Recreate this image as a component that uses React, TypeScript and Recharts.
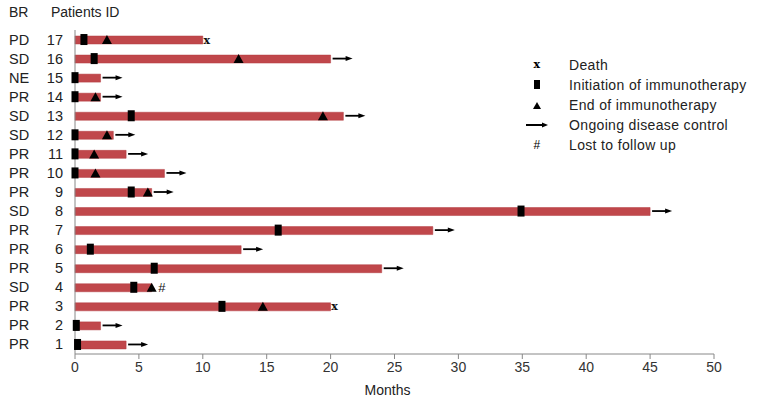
import React from 'react';
import { ComposedChart, Bar, XAxis, YAxis, ReferenceDot } from 'recharts';

const patientIds = ['17', '16', '15', '14', '13', '12', '11', '10', '9', '8', '7', '6', '5', '4', '3', '2', '1'];
const bestResponse = ['PD', 'SD', 'NE', 'PR', 'SD', 'SD', 'PR', 'PR', 'PR', 'SD', 'PR', 'PR', 'PR', 'SD', 'PR', 'PR', 'PR'];
const followUpMonths = [10, 20, 2, 2, 21, 3, 4, 7, 6, 45, 28, 13, 24, 6, 20, 2, 4];
const initiationMonths = [0.7, 1.5, 0, 0, 4.4, 0, 0, 0, 4.4, 34.9, 15.9, 1.2, 6.2, 4.6, 11.5, 0.1, 0.2];
const endMonths: (number | null)[] = [2.5, 12.8, null, 1.6, 19.4, 2.5, 1.5, 1.6, 5.7, null, null, null, null, 6.0, 14.7, null, null];
const ongoing = [false, true, true, true, true, true, true, true, true, true, true, true, true, false, false, true, true];
const death = [true, false, false, false, false, false, false, false, false, false, false, false, false, false, true, false, false];
const lostMonths: (number | null)[] = [null, null, null, null, null, null, null, null, null, null, null, null, null, 6.8, null, null, null];
const xTicks = [0, 5, 10, 15, 20, 25, 30, 35, 40, 45, 50];

const legendItems = [
  { key: 'death', label: 'Death' },
  { key: 'init', label: 'Initiation of immunotherapy' },
  { key: 'end', label: 'End of immunotherapy' },
  { key: 'arrow', label: 'Ongoing disease control' },
  { key: 'lost', label: 'Lost to follow up' },
];

const FONT = '"Liberation Sans", Arial, Helvetica, sans-serif';
const BAR = '#c0474b';

const data = patientIds.map((id, i) => ({ id, br: bestResponse[i], months: followUpMonths[i] }));

const InitShape = (p: any) => <rect x={p.cx - 3.5} y={p.cy - 5.5} width={7} height={11} fill="#000" />;
const EndShape = (p: any) => (
  <polygon points={`${p.cx - 5},${p.cy + 4.5} ${p.cx + 5},${p.cy + 4.5} ${p.cx},${p.cy - 4.5}`} fill="#000" />
);
const ArrowShape = (p: any) => (
  <g>
    <line x1={p.cx + 2} y1={p.cy} x2={p.cx + 16} y2={p.cy} stroke="#000" strokeWidth={1.8} />
    <polygon points={`${p.cx + 15},${p.cy - 2.5} ${p.cx + 22},${p.cy} ${p.cx + 15},${p.cy + 2.5}`} fill="#000" />
  </g>
);
const DeathShape = (p: any) => (
  <text x={p.cx + 4} y={p.cy + 4} textAnchor="middle" fontFamily='"DejaVu Serif", "Liberation Serif", serif' fontWeight="bold" fontSize={11} fill="#111">x</text>
);
const LostShape = (p: any) => (
  <text x={p.cx} y={p.cy + 4.5} textAnchor="middle" fontFamily={FONT} fontSize={13} fill="#111">#</text>
);

const YTick = (props: any) => {
  const { y, payload, index } = props;
  return (
    <g>
      <text x={9} y={y} dy={5} textAnchor="start" fontFamily={FONT} fontSize={14.5} fill="#222">{bestResponse[index]}</text>
      <text x={63} y={y} dy={5} textAnchor="end" fontFamily={FONT} fontSize={14.5} fill="#222">{payload.value}</text>
    </g>
  );
};

const LegendSymbol = ({ k }: { k: string }) => {
  if (k === 'death') return <svg width={20} height={14}><text x={10} y={10} textAnchor="middle" fontFamily='"DejaVu Serif", serif' fontWeight="bold" fontSize={11}>x</text></svg>;
  if (k === 'init') return <svg width={20} height={14}><rect x={7} y={2} width={6} height={9} fill="#000" /></svg>;
  if (k === 'end') return <svg width={20} height={14}><polygon points="6,11 14,11 10,4" fill="#000" /></svg>;
  if (k === 'arrow') return <svg width={24} height={14}><line x1={1} y1={7} x2={18} y2={7} stroke="#000" strokeWidth={2} /><polygon points="17,4.5 23,7 17,9.5" fill="#000" /></svg>;
  return <svg width={20} height={14}><text x={10} y={11} textAnchor="middle" fontFamily={FONT} fontSize={12}>#</text></svg>;
};

const LegendBox = () => (
  <div style={{ position: 'absolute', left: 525, top: 55, width: 242, fontFamily: FONT, fontSize: 14, letterSpacing: 0.35, color: '#222' }}>
    {legendItems.map((it) => (
      <div key={it.key} style={{ display: 'flex', alignItems: 'center', height: 20, whiteSpace: 'nowrap' }}>
        <div style={{ width: 44, display: 'flex', justifyContent: 'flex-start' }}>
          <div style={{ width: 24, display: 'flex', justifyContent: 'center' }}><LegendSymbol k={it.key} /></div>
        </div>
        <span>{it.label}</span>
      </div>
    ))}
  </div>
);

export default function App() {
  return (
    <div style={{ position: 'absolute', left: 0, top: 0, width: 767, height: 412, background: '#fff', fontFamily: FONT }}>
      <ComposedChart width={767} height={412} data={data} layout="vertical" margin={{ top: 30, right: 53, bottom: 18, left: 0 }}>
        <XAxis
          type="number"
          domain={[0, 50]}
          ticks={xTicks}
          interval={0}
          axisLine={{ stroke: '#888' }}
          tickLine={{ stroke: '#888' }}
          tickSize={5}
          tickMargin={3}
          tick={{ fill: '#333', fontSize: 14, fontFamily: FONT }}
          height={40}
          label={{ value: 'Months', position: 'insideBottom', offset: -1, dx: -7, fill: '#222', fontSize: 14, fontFamily: FONT }}
        />
        <YAxis type="category" dataKey="id" width={75} axisLine={{ stroke: '#888' }} tickLine={false} tick={<YTick />} interval={0} />
        <Bar dataKey="months" barSize={8} fill={BAR} stroke="#b23c40" strokeWidth={0.5} isAnimationActive={false} />
        {patientIds.map((id, i) => (ongoing[i] ? <ReferenceDot key={'a' + id} x={followUpMonths[i]} y={id} shape={ArrowShape} ifOverflow="visible" /> : null))}
        {patientIds.map((id, i) => (death[i] ? <ReferenceDot key={'d' + id} x={followUpMonths[i]} y={id} shape={DeathShape} ifOverflow="visible" /> : null))}
        {patientIds.map((id, i) => (lostMonths[i] != null ? <ReferenceDot key={'l' + id} x={lostMonths[i] as number} y={id} shape={LostShape} ifOverflow="visible" /> : null))}
        {patientIds.map((id, i) => <ReferenceDot key={'i' + id} x={initiationMonths[i]} y={id} shape={InitShape} ifOverflow="visible" />)}
        {patientIds.map((id, i) => (endMonths[i] != null ? <ReferenceDot key={'e' + id} x={endMonths[i] as number} y={id} shape={EndShape} ifOverflow="visible" /> : null))}
      </ComposedChart>
      <div style={{ position: 'absolute', left: 9, top: 4, fontSize: 14, color: '#222' }}>BR</div>
      <div style={{ position: 'absolute', left: 51, top: 4, fontSize: 14, color: '#222' }}>Patients ID</div>
      <LegendBox />
    </div>
  );
}
